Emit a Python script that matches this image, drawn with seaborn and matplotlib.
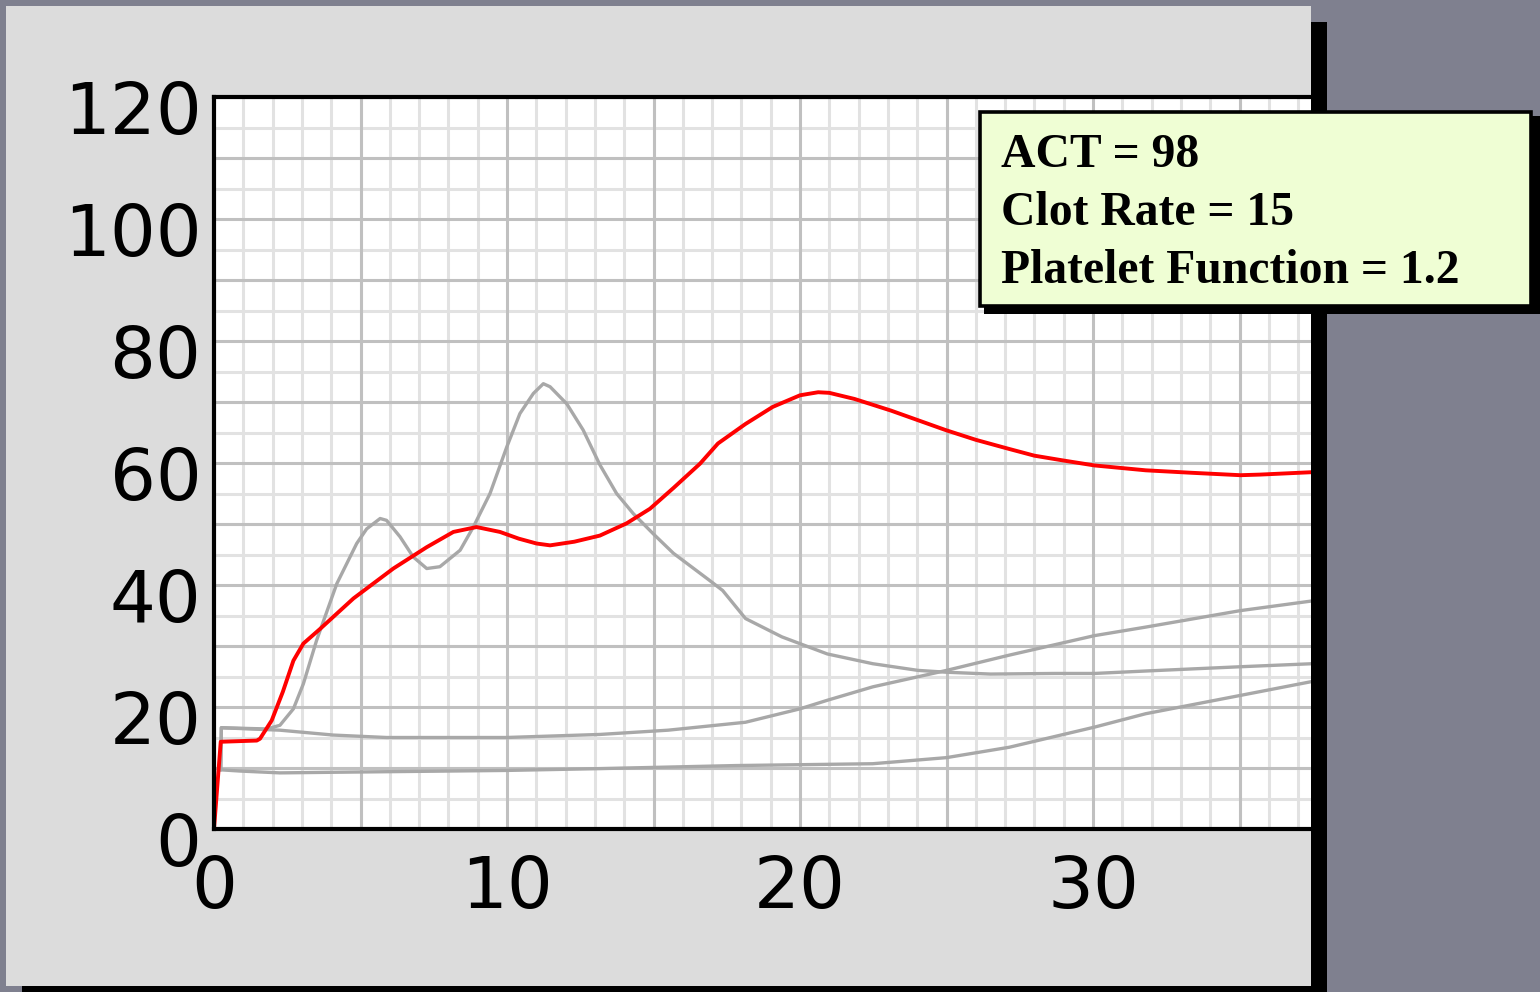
import numpy as np
import pandas as pd
import seaborn as sns
import matplotlib.pyplot as plt
import matplotlib.transforms as mtransforms
from matplotlib.patches import Rectangle

# Kurve verileri
red_x = [0.0, 0.23, 1.46, 1.57, 1.97, 2.35, 2.71, 3.05, 3.62, 4.76, 6.12, 7.26, 8.17, 8.96,
         9.76, 10.4, 11.01, 11.47, 12.3, 13.17, 14.08, 14.88, 15.68, 16.59, 17.2, 18.14,
         19.07, 20.0, 20.62, 21.0, 21.86, 23.1, 24.97, 26.0, 27.14, 28.0, 29.0, 30.05,
         31.8, 33.35, 35.03, 35.7, 37.5]
red_y = [0.0, 14.3, 14.5, 14.8, 17.8, 22.5, 27.6, 30.4, 32.8, 37.8, 42.7, 46.2, 48.7, 49.5,
         48.7, 47.6, 46.8, 46.5, 47.1, 48.1, 50.1, 52.5, 55.9, 59.9, 63.2, 66.4,
         69.2, 71.1, 71.6, 71.5, 70.5, 68.6, 65.4, 63.8, 62.3, 61.2, 60.4, 59.6,
         58.8, 58.4, 58.0, 58.1, 58.5]

gray1_x = [0.23, 0.25, 1.8, 2.25, 2.71, 3.05, 3.5, 4.19, 4.87, 5.21, 5.67, 5.89, 6.35,
           6.8, 7.26, 7.71, 8.4, 8.85, 9.42, 9.99, 10.44, 10.9, 11.24, 11.47, 12.04,
           12.6, 13.17, 13.74, 14.31, 14.99, 15.68, 16.9, 17.36, 18.14, 19.38, 20.93,
           22.48, 24.03, 25.0, 26.5, 28.7, 30.05, 31.8, 35.03, 37.5]
gray1_y = [9.7, 16.6, 16.4, 17.0, 19.7, 23.8, 30.9, 40.2, 46.8, 49.2, 50.9, 50.6, 47.9,
           44.6, 42.7, 43.0, 45.7, 49.5, 55.0, 62.6, 68.1, 71.4, 73.0, 72.5, 69.7,
           65.4, 59.7, 55.0, 51.7, 48.4, 45.2, 40.8, 39.1, 34.5, 31.5, 28.7,
           27.1, 26.0, 25.7, 25.4, 25.5, 25.5, 25.9, 26.6, 27.1]

gray2_x = [0.23, 0.25, 2.25, 4.07, 5.89, 9.97, 13.17, 15.5, 18.14, 20.0, 20.93, 22.48,
           25.0, 27.14, 30.05, 31.8, 35.03, 37.5]
gray2_y = [9.7, 16.6, 16.2, 15.4, 15.0, 15.0, 15.5, 16.2, 17.5, 19.7, 21.1, 23.3,
           26.0, 28.5, 31.7, 33.1, 35.8, 37.4]

gray3_x = [0.23, 0.89, 2.25, 4.07, 9.97, 13.17, 17.8, 22.48, 25.0, 27.14, 30.05, 31.8,
           35.03, 37.5]
gray3_y = [9.7, 9.5, 9.2, 9.3, 9.6, 9.9, 10.4, 10.7, 11.7, 13.4, 16.7, 18.9,
           21.9, 24.2]

x_ticks = [0, 10, 20, 30]
y_ticks = [0, 20, 40, 60, 80, 100, 120]
info_lines = ['ACT = 98', 'Clot Rate = 15', 'Platelet Function = 1.2']

W, H = 1540, 992
sns.set_style('white')
plt.rcParams['font.family'] = ['DejaVu Sans']
plt.rcParams['text.color'] = 'black'
plt.rcParams['xtick.color'] = 'black'
plt.rcParams['ytick.color'] = 'black'

fig = plt.figure(figsize=(W / 100, H / 100), dpi=100, facecolor='#7f808f')

# Panel ve golgesi (piksel -> figur koordinati)
def px_rect(x0, y0, x1, y1, **kw):
    return Rectangle((x0 / W, 1 - y1 / H), (x1 - x0) / W, (y1 - y0) / H,
                     transform=fig.transFigure, **kw)

fig.patches.append(px_rect(22, 22, 1327, 1010, facecolor='black', edgecolor='none', zorder=0))
fig.patches.append(px_rect(6, 6, 1311, 986, facecolor='#dcdcdc', edgecolor='none', zorder=1))

ax = fig.add_axes([214 / W, 1 - 829 / H, (1311 - 214) / W, (829 - 97) / H])
ax.set_zorder(5)
ax.set_facecolor('white')

frames = []
for name, xs, ys in [('g1', gray1_x, gray1_y), ('g2', gray2_x, gray2_y),
                     ('g3', gray3_x, gray3_y)]:
    frames.append(pd.DataFrame({'x': xs, 'y': ys, 'curve': name}))
gray_df = pd.concat(frames, ignore_index=True)
red_df = pd.DataFrame({'x': red_x, 'y': red_y})

sns.lineplot(data=gray_df, x='x', y='y', units='curve', estimator=None, sort=False,
             color='#a8a8a8', linewidth=2.4, ax=ax, zorder=3)
sns.lineplot(data=red_df, x='x', y='y', estimator=None, sort=False,
             color='#ff0000', linewidth=2.8, ax=ax, zorder=4)

ax.set_xlim(0, 37.44)
ax.set_ylim(0, 120)
ax.set_xticks(x_ticks)
ax.set_yticks(y_ticks)
ax.set_xticks(np.arange(0, 38, 1), minor=True)
ax.set_yticks(np.arange(0, 121, 5), minor=True)
ax.grid(which='minor', color='#e2e2e2', linewidth=2.2, zorder=1)
ax.grid(which='major', visible=False)
# major grid every 5 on x, 10 on y
for v in np.arange(5, 38, 5):
    ax.axvline(v, color='#c0c0c0', linewidth=2.2, zorder=2)
for v in np.arange(10, 121, 10):
    ax.axhline(v, color='#c0c0c0', linewidth=2.2, zorder=2)

ax.tick_params(which='both', length=0)
ax.tick_params(axis='y', labelsize=52, pad=9)
ax.tick_params(axis='x', labelsize=52, pad=18)
ax.set_xlabel('')
ax.set_ylabel('')
for s in ['left', 'top', 'bottom']:
    ax.spines[s].set_color('black')
    ax.spines[s].set_linewidth(3)
    ax.spines[s].set_zorder(6)
ax.spines['right'].set_visible(False)

# y etiketleri referansta biraz asagida
shift = mtransforms.ScaledTranslation(0, -10 / 100, fig.dpi_scale_trans)
for lab in ax.get_yticklabels():
    lab.set_transform(lab.get_transform() + shift)

# Bilgi kutusu
fig.patches.append(px_rect(984, 116, 1540, 314, facecolor='black', edgecolor='none', zorder=10))
fig.patches.append(px_rect(980, 112, 1531, 306, facecolor='#effed4', edgecolor='black',
                           linewidth=2.6, zorder=11))
for i, line in enumerate(info_lines):
    fig.text(1001 / W, 1 - (167 + 58 * i) / H, line, fontsize=34.3, fontweight='bold',
             family=['Liberation Serif', 'DejaVu Serif'], va='baseline', ha='left',
             color='black', zorder=12)

fig.savefig('out.png', dpi=100, facecolor=fig.get_facecolor())
